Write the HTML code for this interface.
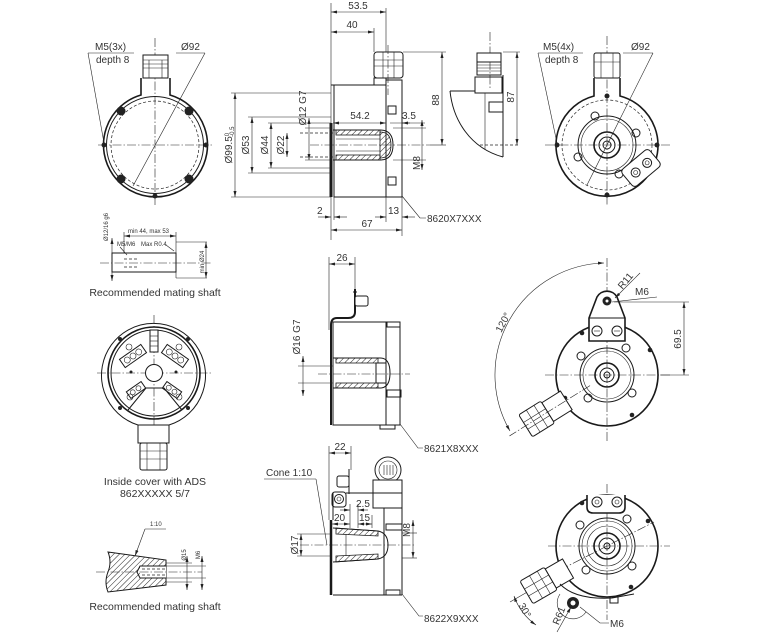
<!DOCTYPE html>
<html><head><meta charset="utf-8"><style>
html,body{margin:0;padding:0;background:#fff;}
svg{display:block;}
text{font-family:"Liberation Sans",Arial,sans-serif;fill:#333;font-size:10px;}
.k{stroke:#1a1a1a;stroke-width:1.6;fill:none;}
.kw{stroke:#1a1a1a;stroke-width:1.6;fill:#fff;}
.m{stroke:#1a1a1a;stroke-width:1;fill:none;}
.mw{stroke:#1a1a1a;stroke-width:1;fill:#fff;}
.n{stroke:#222;stroke-width:0.6;fill:none;}
.c{stroke:#222;stroke-width:0.6;fill:none;stroke-dasharray:9 2 1.5 2;}
.d{stroke:#222;stroke-width:0.7;fill:none;stroke-dasharray:3 2;}
.ar{marker-start:url(#a);marker-end:url(#a);}
.ae{marker-end:url(#a);}
.h{fill:url(#hp);stroke:#1a1a1a;stroke-width:0.8;}
.s{font-size:6px;}
</style></head><body>
<svg width="760" height="636" viewBox="0 0 760 636" xmlns="http://www.w3.org/2000/svg">
<defs>
<marker id="a" viewBox="0 0 10 10" refX="10" refY="5" markerWidth="6" markerHeight="6" orient="auto-start-reverse" markerUnits="userSpaceOnUse"><path d="M0,2.5 L10,5 L0,7.5z" fill="#222"/></marker>
<pattern id="hp" width="4" height="4" patternUnits="userSpaceOnUse" patternTransform="rotate(45)"><line x1="0" y1="0" x2="0" y2="4" stroke="#222" stroke-width="1"/></pattern>
</defs>

<!-- ============ Drawing 1: back view ============ -->
<line class="c" x1="155" y1="38" x2="155" y2="205"/>
<line class="c" x1="98" y1="145" x2="213" y2="145"/>
<path class="k" d="M141,78 V95 A52,52 0 1 0 170,95 V78"/>
<circle class="m" cx="155" cy="145" r="48.5"/>
<circle class="d" cx="155" cy="145" r="44"/>
<rect class="mw" x="143" y="55" width="25" height="23"/>
<line class="n" x1="143" y1="60" x2="168" y2="60"/>
<line class="n" x1="143" y1="64" x2="168" y2="64"/>
<line class="n" x1="143" y1="68" x2="168" y2="68"/>
<line class="n" x1="149" y1="60" x2="149" y2="78"/>
<line class="n" x1="162" y1="60" x2="162" y2="78"/>
<g fill="#222">
<circle cx="121" cy="111" r="4.5"/><circle cx="189" cy="111" r="4.5"/>
<circle cx="121" cy="179" r="4.5"/><circle cx="189" cy="179" r="4.5"/>
<circle cx="104" cy="145" r="2.5"/><circle cx="206" cy="145" r="2.5"/><circle cx="155" cy="196" r="2.5"/>
</g>
<text x="95" y="50">M5(3x)</text>
<text x="96" y="63">depth 8</text>
<line class="n" x1="88" y1="53" x2="134" y2="53"/>
<line class="n" x1="88" y1="53" x2="104" y2="143"/>
<text x="181" y="50">Ø92</text>
<line class="n" x1="176" y1="53" x2="205" y2="53"/>
<line class="n" x1="205" y1="53" x2="133" y2="186"/>

<!-- ============ Drawing 2: side view 8620X7XXX ============ -->
<line class="n" x1="331" y1="3" x2="331" y2="240"/>
<line class="n" x1="386" y1="8" x2="386" y2="52"/>
<line class="n" x1="374" y1="28" x2="374" y2="52"/>
<line class="n ar" x1="331" y1="12" x2="386" y2="12"/>
<text x="358" y="9" text-anchor="middle">53.5</text>
<line class="n ar" x1="331" y1="32" x2="374" y2="32"/>
<text x="352" y="28" text-anchor="middle">40</text>
<!-- body -->
<rect class="m" x="334" y="85" width="52" height="112"/>
<rect class="m" x="386" y="80" width="16" height="117"/>
<rect class="mw" x="374" y="52" width="29" height="26" rx="3"/>
<line class="n" x1="374" y1="60" x2="403" y2="60"/>
<line class="n" x1="374" y1="66" x2="403" y2="66"/>
<line class="n" x1="383" y1="52" x2="383" y2="78"/>
<line class="n" x1="394" y1="52" x2="394" y2="78"/>
<rect class="m" x="374" y="78" width="12" height="7"/>
<line class="c" x1="388" y1="45" x2="388" y2="95"/>
<rect class="m" x="388" y="106" width="8" height="8"/>
<rect class="m" x="388" y="177" width="8" height="8"/>
<path d="M331,123 V197" stroke="#1a1a1a" stroke-width="3"/>
<line class="m" x1="331" y1="85" x2="334" y2="85"/>
<!-- shaft -->
<path class="m" d="M333,130 H380 Q393,130 393,145 Q393,160 380,160 H333"/>
<rect class="h" x="336" y="130" width="44" height="5"/>
<rect class="h" x="336" y="155" width="44" height="5"/>
<path class="h" d="M380,132 Q391,132 391,145 Q391,158 380,158 Z"/>
<line class="n" x1="336" y1="139" x2="380" y2="139"/>
<line class="n" x1="336" y1="151" x2="380" y2="151"/>
<line class="d" x1="300" y1="133" x2="333" y2="133"/>
<line class="d" x1="300" y1="157" x2="333" y2="157"/>
<line class="c" x1="310" y1="145" x2="430" y2="145"/>
<!-- left dims -->
<line class="n" x1="231" y1="93" x2="331" y2="93"/>
<line class="n" x1="231" y1="197" x2="331" y2="197"/>
<line class="n ar" x1="235" y1="93" x2="235" y2="197"/>
<text transform="translate(232,145) rotate(-90)" text-anchor="middle">Ø99.5<tspan class="s" dy="-3">0</tspan><tspan class="s" dx="-4" dy="5">-0.5</tspan></text>
<line class="n" x1="248" y1="117" x2="331" y2="117"/>
<line class="n" x1="248" y1="173" x2="331" y2="173"/>
<line class="n ar" x1="252" y1="117" x2="252" y2="173"/>
<text transform="translate(249,145) rotate(-90)" text-anchor="middle">Ø53</text>
<line class="n" x1="268" y1="123" x2="331" y2="123"/>
<line class="n" x1="268" y1="168" x2="331" y2="168"/>
<line class="n ar" x1="271" y1="123" x2="271" y2="168"/>
<text transform="translate(268,145) rotate(-90)" text-anchor="middle">Ø44</text>
<line class="n ar" x1="287" y1="133" x2="287" y2="157"/>
<text transform="translate(284,145) rotate(-90)" text-anchor="middle">Ø22</text>
<line class="n" x1="305" y1="128" x2="331" y2="128"/>
<line class="n" x1="305" y1="160" x2="331" y2="160"/>
<line class="n ar" x1="309" y1="118" x2="309" y2="160"/>
<text transform="translate(306,108) rotate(-90)" text-anchor="middle">Ø12 G7</text>
<line class="n ar" x1="333" y1="123" x2="386" y2="123"/>
<text x="360" y="119" text-anchor="middle">54.2</text>
<line class="n" x1="390" y1="123" x2="425" y2="123"/>
<line class="n ae" x1="410" y1="123" x2="402" y2="123"/>
<text x="402" y="119">3.5</text>
<line class="n" x1="393" y1="128" x2="426" y2="128"/>
<line class="n" x1="393" y1="160" x2="426" y2="160"/>
<line class="n ar" x1="422" y1="120" x2="422" y2="170"/>
<text transform="translate(420,163) rotate(-90)" text-anchor="middle">M8</text>
<line class="n" x1="403" y1="52" x2="446" y2="52"/>
<line class="n" x1="430" y1="145" x2="446" y2="145"/>
<line class="n ar" x1="442" y1="52" x2="442" y2="145"/>
<text transform="translate(439,100) rotate(-90)" text-anchor="middle">88</text>
<!-- bottom dims -->
<line class="n" x1="334" y1="197" x2="334" y2="220"/>
<line class="n" x1="386" y1="197" x2="386" y2="222"/>
<line class="n" x1="402" y1="197" x2="402" y2="236"/>
<line class="n ae" x1="318" y1="217" x2="331" y2="217"/>
<line class="n ae" x1="347" y1="217" x2="334" y2="217"/>
<text x="317" y="214">2</text>
<line class="n ae" x1="375" y1="217" x2="386" y2="217"/>
<line class="n ae" x1="415" y1="217" x2="402" y2="217"/>
<text x="388" y="214">13</text>
<line class="n ar" x1="331" y1="230" x2="402" y2="230"/>
<text x="367" y="227" text-anchor="middle">67</text>
<path class="n" d="M402,196 L420,218 H426"/>
<text x="427" y="222">8620X7XXX</text>

<!-- ============ Drawing 3: side profile ============ -->
<line class="c" x1="490" y1="32" x2="490" y2="90"/>
<rect class="mw" x="477" y="53" width="24" height="9"/>
<rect class="m" x="477" y="62" width="24" height="13"/>
<line class="n" x1="477" y1="65" x2="501" y2="65"/>
<line class="n" x1="477" y1="68" x2="501" y2="68"/>
<line class="n" x1="477" y1="71" x2="501" y2="71"/>
<rect class="m" x="475" y="77" width="27" height="16"/>
<path class="m" d="M450,91 H475"/>
<path class="m" d="M450,91 C453,120 470,148 503,157"/>
<line class="m" x1="503" y1="75" x2="503" y2="157"/>
<line class="n" x1="485" y1="93" x2="485" y2="150"/>
<rect class="m" x="489" y="102" width="14" height="10"/>
<line class="n" x1="503" y1="52" x2="520" y2="52"/>
<line class="d" x1="480" y1="145" x2="520" y2="145"/>
<line class="n ar" x1="517" y1="52" x2="517" y2="145"/>
<text transform="translate(514,97) rotate(-90)" text-anchor="middle">87</text>

<!-- ============ Drawing 4: front view top right ============ -->
<line class="c" x1="607" y1="36" x2="607" y2="205"/>
<line class="c" x1="545" y1="145" x2="672" y2="145"/>
<path class="k" d="M594,78 V96 A51,51 0 1 0 620,96 V78"/>
<rect class="mw" x="594" y="53" width="26" height="25" rx="2"/>
<line class="n" x1="594" y1="62" x2="620" y2="62"/>
<line class="n" x1="601" y1="53" x2="601" y2="78"/>
<line class="n" x1="613" y1="53" x2="613" y2="78"/>
<circle class="d" cx="607" cy="145" r="45"/>
<circle class="m" cx="607" cy="145" r="29"/>
<circle class="n" cx="607" cy="145" r="26"/>
<circle class="k" cx="607" cy="145" r="13"/>
<circle class="m" cx="607" cy="145" r="8"/>
<circle class="m" cx="607" cy="145" r="4"/>
<g class="m">
<circle cx="595" cy="116" r="4"/><circle cx="636" cy="133" r="4"/>
<circle cx="578" cy="157" r="4"/><circle cx="619" cy="174" r="4"/>
</g>
<g fill="#222"><circle cx="607" cy="96" r="2.5"/><circle cx="557" cy="145" r="2.5"/><circle cx="657" cy="145" r="2.5"/><circle cx="607" cy="195" r="2.5"/></g>
<g transform="translate(641,168) rotate(-40)">
<rect class="mw" x="-18" y="-11" width="36" height="22" rx="4"/>
<circle class="m" cx="-7" cy="0" r="4.5"/><circle class="n" cx="-7" cy="0" r="2"/>
<circle class="m" cx="8" cy="0" r="4.5"/><circle class="n" cx="8" cy="0" r="2"/>
</g>
<text x="543" y="50">M5(4x)</text>
<text x="545" y="63">depth 8</text>
<line class="n" x1="538" y1="53" x2="583" y2="53"/>
<line class="n" x1="538" y1="53" x2="557" y2="143"/>
<text x="631" y="50">Ø92</text>
<line class="n" x1="623" y1="53" x2="653" y2="53"/>
<line class="n" x1="653" y1="53" x2="587" y2="185"/>

<!-- ============ Drawing 5: mating shaft ============ -->
<text class="s" transform="translate(108,227) rotate(-90)" text-anchor="middle">Ø12/16 g6</text>
<line class="n ar" x1="112" y1="238" x2="112" y2="281"/>
<line class="n" x1="124" y1="232" x2="124" y2="253"/>
<line class="n" x1="176" y1="232" x2="176" y2="278"/>
<line class="n ar" x1="124" y1="236" x2="176" y2="236"/>
<text class="s" x="128" y="233">min 44, max 53</text>
<text class="s" x="117" y="246">M5/M6</text>
<line class="n" x1="120" y1="247" x2="127" y2="255"/>
<text class="s" x="141" y="246">Max R0.4</text>
<line class="n" x1="166" y1="245" x2="174" y2="251"/>
<rect class="m" x="112" y="253" width="64" height="19"/>
<line class="c" x1="100" y1="263" x2="212" y2="263"/>
<line class="d" x1="124" y1="259" x2="139" y2="259"/>
<line class="d" x1="124" y1="267" x2="139" y2="267"/>
<line class="n" x1="176" y1="242" x2="207" y2="242"/>
<line class="n" x1="176" y1="278" x2="207" y2="278"/>
<line class="n ar" x1="206" y1="242" x2="206" y2="278"/>
<text class="s" transform="translate(204,262) rotate(-90)" text-anchor="middle">min Ø24</text>
<text x="155" y="296" text-anchor="middle" style="font-size:10.5px">Recommended mating shaft</text>

<!-- ============ Drawing 6: inside cover ============ -->
<line class="c" x1="154" y1="315" x2="154" y2="435"/>
<line class="c" x1="97" y1="373" x2="213" y2="373"/>
<path class="m" d="M138,425 A52,52 0 1 1 169,425"/>
<circle class="k" cx="154" cy="373" r="46"/>
<circle class="m" cx="154" cy="373" r="43"/>
<circle class="mw" cx="154" cy="373" r="8.5"/>
<rect class="mw" x="150" y="330" width="8" height="22"/>
<line class="n" x1="150" y1="336" x2="158" y2="336"/>
<line class="n" x1="150" y1="341" x2="158" y2="341"/>
<line class="n" x1="150" y1="346" x2="158" y2="346"/>
<g transform="translate(133,356) rotate(-35)"><rect class="mw" x="-13" y="-5" width="26" height="10"/><circle class="n" cx="-7" cy="0" r="3"/><circle class="n" cx="0" cy="0" r="3"/><circle class="n" cx="7" cy="0" r="3"/></g>
<g transform="translate(175,356) rotate(35)"><rect class="mw" x="-13" y="-5" width="26" height="10"/><circle class="n" cx="-7" cy="0" r="3"/><circle class="n" cx="0" cy="0" r="3"/><circle class="n" cx="7" cy="0" r="3"/></g>
<g transform="translate(136,390) rotate(-35)"><rect class="mw" x="-9" y="-4" width="18" height="8"/><circle class="n" cx="-4" cy="0" r="2.5"/><circle class="n" cx="3" cy="0" r="2.5"/></g>
<g transform="translate(172,390) rotate(35)"><rect class="mw" x="-9" y="-4" width="18" height="8"/><circle class="n" cx="-4" cy="0" r="2.5"/><circle class="n" cx="3" cy="0" r="2.5"/></g>
<path class="m" d="M128,410 L146,388 H164 L182,410"/>
<g class="n"><circle cx="129" cy="347" r="3"/><circle cx="179" cy="347" r="3"/><circle cx="130" cy="397" r="3"/><circle cx="179" cy="397" r="3"/></g>
<g fill="#222"><circle cx="120" cy="339" r="2"/><circle cx="188" cy="339" r="2"/><circle cx="120" cy="408" r="2"/><circle cx="188" cy="408" r="2"/><circle cx="131" cy="372" r="1.5"/><circle cx="176" cy="372" r="1.5"/></g>
<rect class="mw" x="138" y="425" width="31" height="18"/>
<rect class="mw" x="140" y="443" width="27" height="27" rx="2"/>
<line class="n" x1="140" y1="451" x2="167" y2="451"/>
<line class="n" x1="140" y1="459" x2="167" y2="459"/>
<line class="n" x1="147" y1="443" x2="147" y2="470"/>
<line class="n" x1="160" y1="443" x2="160" y2="470"/>
<text x="155" y="485" text-anchor="middle" style="font-size:10.5px">Inside cover with ADS</text>
<text x="155" y="497" text-anchor="middle" style="font-size:10.5px">862XXXXX 5/7</text>

<!-- ============ Drawing 7: 8621X8XXX ============ -->
<line class="n" x1="329" y1="257" x2="329" y2="330"/>
<line class="n" x1="355" y1="257" x2="355" y2="290"/>
<line class="n ar" x1="329" y1="264" x2="355" y2="264"/>
<text x="342" y="261" text-anchor="middle">26</text>
<path d="M355,289 V312 Q355,318 348,318 H337 Q331,318 331,325 V425" fill="none" stroke="#1a1a1a" stroke-width="2"/>
<rect class="mw" x="355" y="296" width="13" height="10" rx="2"/>
<line class="m" x1="353" y1="292" x2="357" y2="292"/>
<rect class="m" x="333" y="322" width="67" height="103"/>
<line class="m" x1="386" y1="322" x2="386" y2="425"/>
<rect class="m" x="387" y="322" width="13" height="5"/>
<rect class="m" x="387" y="390" width="14" height="7"/>
<rect class="m" x="380" y="425" width="15" height="4"/>
<path class="m" d="M333,358 H380 Q390,358 390,373 Q390,388 380,388 H333"/>
<rect class="h" x="336" y="358" width="42" height="5"/>
<rect class="h" x="336" y="383" width="42" height="5"/>
<rect class="m" x="376" y="363" width="10" height="20"/>
<line class="c" x1="318" y1="374" x2="410" y2="374"/>
<line class="n" x1="298" y1="366" x2="333" y2="366"/>
<line class="n" x1="298" y1="383" x2="333" y2="383"/>
<line class="n ar" x1="303" y1="356" x2="303" y2="396"/>
<text transform="translate(300,337) rotate(-90)" text-anchor="middle">Ø16 G7</text>
<path class="n" d="M400,424 L418,448 H423"/>
<text x="424" y="452">8621X8XXX</text>

<!-- ============ Drawing 8: 8622X9XXX ============ -->
<line class="n" x1="329" y1="446" x2="329" y2="520"/>
<line class="n" x1="351" y1="446" x2="351" y2="470"/>
<line class="n ar" x1="329" y1="453" x2="351" y2="453"/>
<text x="340" y="450" text-anchor="middle">22</text>
<text x="266" y="476">Cone 1:10</text>
<line class="n" x1="264" y1="479" x2="316" y2="479"/>
<line class="n" x1="316" y1="479" x2="327" y2="545"/>
<rect class="mw" x="337" y="476" width="12" height="11" rx="2"/>
<line class="m" x1="349" y1="469" x2="349" y2="494"/>
<rect class="m" x="332" y="492" width="14" height="15" rx="3"/>
<circle class="m" cx="339" cy="499" r="4.5"/><circle class="n" cx="339" cy="499" r="2"/>
<circle class="mw" cx="388" cy="470" r="13"/>
<circle class="n" cx="388" cy="470" r="9"/>
<line class="n" x1="384" y1="465" x2="384" y2="475"/>
<line class="n" x1="387" y1="465" x2="387" y2="475"/>
<line class="n" x1="390" y1="465" x2="390" y2="475"/>
<line class="n" x1="393" y1="465" x2="393" y2="475"/>
<rect class="mw" x="373" y="480" width="29" height="13"/>
<rect class="m" x="373" y="493" width="29" height="15"/>
<line class="m" x1="346" y1="493" x2="373" y2="493"/>
<path d="M331,520 V595" stroke="#1a1a1a" stroke-width="2.5"/>
<line class="m" x1="333" y1="493" x2="333" y2="520"/>
<line class="m" x1="333" y1="595" x2="402" y2="595"/>
<line class="m" x1="402" y1="493" x2="402" y2="595"/>
<line class="m" x1="384" y1="508" x2="384" y2="595"/>
<rect class="m" x="386" y="524" width="16" height="6"/>
<rect class="m" x="386" y="590" width="14" height="5"/>
<path class="m" d="M333,528 L378,531 Q388,533 388,545 Q388,557 378,559 L333,562"/>
<path class="h" d="M336,528 L378,531 L378,536 L336,534 Z"/>
<path class="h" d="M336,556 L378,554 L378,559 L336,562 Z"/>
<line class="n" x1="346" y1="534" x2="346" y2="556"/>
<line class="c" x1="300" y1="545" x2="416" y2="545"/>
<line class="n" x1="350" y1="504" x2="350" y2="528"/>
<line class="n" x1="358" y1="504" x2="358" y2="528"/>
<line class="n" x1="372" y1="515" x2="372" y2="528"/>
<line class="n ae" x1="340" y1="510" x2="350" y2="510"/>
<line class="n ae" x1="368" y1="510" x2="358" y2="510"/>
<text x="356" y="507">2.5</text>
<line class="n ar" x1="332" y1="524" x2="350" y2="524"/>
<text x="334" y="521">20</text>
<line class="n ar" x1="358" y1="524" x2="372" y2="524"/>
<text x="359" y="521">15</text>
<line class="n" x1="402" y1="533" x2="417" y2="533"/>
<line class="n" x1="402" y1="558" x2="417" y2="558"/>
<line class="n ar" x1="413" y1="520" x2="413" y2="558"/>
<text transform="translate(410,530) rotate(-90)" text-anchor="middle">M8</text>
<line class="n" x1="297" y1="534" x2="331" y2="534"/>
<line class="n" x1="297" y1="556" x2="331" y2="556"/>
<line class="n ar" x1="301" y1="534" x2="301" y2="556"/>
<text transform="translate(298,545) rotate(-90)" text-anchor="middle">Ø17</text>
<path class="n" d="M402,594 L419,616 H423"/>
<text x="424" y="622">8622X9XXX</text>

<!-- ============ Drawing 9: front with bracket ============ -->
<line class="c" x1="607" y1="258" x2="607" y2="442"/>
<line class="c" x1="545" y1="375" x2="672" y2="375"/>
<circle class="k" cx="607" cy="375" r="51"/>
<path class="kw" d="M589,341 V318 L597,297 A11.5,11.5 0 0 1 617,297 L625,318 V341 Z"/>
<line class="m" x1="589" y1="318" x2="625" y2="318"/>
<circle fill="#222" cx="607" cy="301" r="4.5"/><circle fill="#fff" cx="607" cy="301" r="1.5"/>
<circle class="m" cx="597" cy="331" r="5"/><circle class="m" cx="617" cy="331" r="5"/>
<line class="n" x1="594" y1="331" x2="600" y2="331"/><line class="n" x1="614" y1="331" x2="620" y2="331"/>
<circle class="m" cx="607" cy="375" r="27"/>
<circle class="n" cx="607" cy="375" r="24"/>
<circle class="k" cx="607" cy="375" r="12"/>
<circle class="m" cx="607" cy="375" r="7"/>
<circle class="m" cx="607" cy="375" r="3"/>
<g class="m"><circle cx="581" cy="356" r="4"/><circle cx="626" cy="348" r="4"/><circle cx="588" cy="398" r="4"/><circle cx="632" cy="393" r="4"/></g>
<g fill="#222"><circle cx="582" cy="333" r="2.3"/><circle cx="650" cy="350" r="2.3"/><circle cx="565" cy="398" r="2.3"/><circle cx="632" cy="415" r="2.3"/></g>
<g transform="translate(607,375) rotate(148)">
<rect class="mw" x="48" y="-11" width="22" height="22"/>
<rect class="mw" x="70" y="-13" width="26" height="26" rx="2"/>
<line class="n" x1="78" y1="-13" x2="78" y2="13"/>
<line class="n" x1="87" y1="-13" x2="87" y2="13"/>
<line class="n" x1="70" y1="-4" x2="96" y2="-4"/>
<line class="n" x1="70" y1="4" x2="96" y2="4"/>
<line class="c" x1="20" y1="0" x2="115" y2="0"/>
</g>
<path class="n ar" d="M604,263 A112,112 0 0 0 510,431"/>
<text transform="translate(506,324) rotate(-62)" text-anchor="middle">120°</text>
<line class="n ae" x1="640" y1="273" x2="615" y2="298"/>
<text transform="translate(628,283) rotate(-50)" text-anchor="middle">R11</text>
<line class="n" x1="612" y1="302" x2="657" y2="297"/>
<text x="635" y="295">M6</text>
<line class="n" x1="614" y1="302" x2="689" y2="302"/>
<line class="n" x1="660" y1="375" x2="689" y2="375"/>
<line class="n ar" x1="684" y1="302" x2="684" y2="375"/>
<text transform="translate(681,339) rotate(-90)" text-anchor="middle">69.5</text>

<!-- ============ Drawing 10: bottom right ============ -->
<line class="c" x1="607" y1="484" x2="607" y2="620"/>
<line class="c" x1="548" y1="546" x2="670" y2="546"/>
<circle class="k" cx="607" cy="546" r="51"/>
<path class="kw" d="M587,495 V507 Q587,513 593,513 H619 Q625,513 625,507 V495"/>
<circle class="m" cx="597" cy="502" r="5"/><circle class="n" cx="597" cy="502" r="2"/>
<circle class="m" cx="617" cy="502" r="5"/><circle class="n" cx="617" cy="502" r="2"/>
<circle class="m" cx="607" cy="546" r="28"/>
<circle class="n" cx="607" cy="546" r="25"/>
<circle class="n" cx="607" cy="546" r="20"/>
<circle class="k" cx="607" cy="546" r="13"/>
<circle class="m" cx="607" cy="546" r="8"/>
<circle class="m" cx="607" cy="546" r="3"/>
<g class="m"><circle cx="580" cy="525" r="4"/><circle cx="627" cy="519" r="4"/><circle cx="586" cy="570" r="4"/><circle cx="632" cy="566" r="4"/></g>
<g fill="#222"><circle cx="582" cy="503" r="2.3"/><circle cx="648" cy="521" r="2.3"/><circle cx="631" cy="587" r="2.3"/></g>
<line class="c" x1="560" y1="570" x2="654" y2="522"/>
<g transform="translate(607,546) rotate(150)">
<rect class="mw" x="45" y="-11" width="20" height="22"/>
<rect class="mw" x="65" y="-13" width="28" height="26" rx="2"/>
<line class="n" x1="73" y1="-13" x2="73" y2="13"/>
<line class="n" x1="82" y1="-13" x2="82" y2="13"/>
<line class="n" x1="65" y1="-4" x2="93" y2="-4"/>
<line class="n" x1="65" y1="4" x2="93" y2="4"/>
<line class="n" x1="93" y1="0" x2="112" y2="0"/>
</g>
<path class="m" d="M560,584 Q575,600 612,598 L634,594"/>
<rect class="m" x="610" y="597" width="8" height="6"/>
<path class="n" d="M560,594 A14,14 0 0 0 586,612"/>
<circle fill="#222" cx="573" cy="603" r="6"/><circle fill="#fff" cx="573" cy="603" r="2.5"/>
<path class="n" d="M580,607 L600,623 H609"/>
<text x="610" y="627">M6</text>
<line class="n ae" x1="557" y1="632" x2="571" y2="607"/>
<text transform="translate(562,617) rotate(-68)" text-anchor="middle">R61</text>
<path class="n ar" d="M514,596 A60,60 0 0 0 536,625"/>
<text transform="translate(522,612) rotate(60)" text-anchor="middle">30°</text>

<!-- ============ Drawing 11: cone mating shaft ============ -->
<text class="s" x="150" y="526">1:10</text>
<line class="n" x1="145" y1="529" x2="166" y2="529"/>
<line class="n ae" x1="145" y1="529" x2="135" y2="556"/>
<path class="h" d="M108,552 L166,560 V585 L108,592 Q104,582 108,572 Q112,562 108,552 Z" style="stroke-width:1"/>
<rect fill="#fff" x="140" y="566" width="26" height="12"/>
<path class="m" d="M166,566 H140 L137,572 L140,578 H166"/>
<line class="d" x1="142" y1="569" x2="166" y2="569"/>
<line class="d" x1="142" y1="575" x2="166" y2="575"/>
<line class="n" x1="166" y1="563" x2="192" y2="563"/>
<line class="n" x1="166" y1="582" x2="192" y2="582"/>
<line class="c" x1="96" y1="572" x2="202" y2="572"/>
<line class="n ar" x1="187" y1="556" x2="187" y2="590"/>
<text class="s" transform="translate(186,555) rotate(-90)" text-anchor="middle">Ø15</text>
<line class="n" x1="166" y1="566" x2="206" y2="566"/>
<line class="n" x1="166" y1="578" x2="206" y2="578"/>
<line class="n ar" x1="202" y1="556" x2="202" y2="590"/>
<text class="s" transform="translate(200,555) rotate(-90)" text-anchor="middle">M6</text>
<text x="155" y="610" text-anchor="middle" style="font-size:10.5px">Recommended mating shaft</text>
</svg>
</body></html>
